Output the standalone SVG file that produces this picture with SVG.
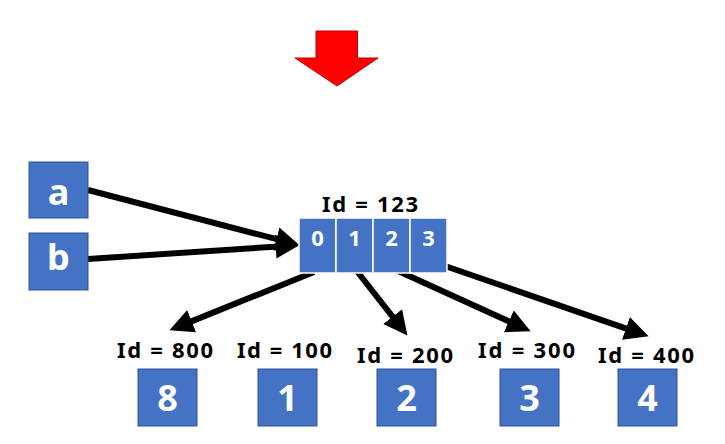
<svg xmlns="http://www.w3.org/2000/svg" width="725" height="444" viewBox="0 0 725 444">
<style>
.box{fill:#4472C4;stroke:#2F528F;stroke-width:1}
.cell{fill:#4472C4;stroke:#FFFFFF;stroke-width:1.5}
.big{font-family:"Noto Sans","Liberation Sans",sans-serif;font-weight:bold;font-size:36px;fill:#FFFFFF;text-anchor:middle}
.small{font-family:"Noto Sans","Liberation Sans",sans-serif;font-weight:bold;font-size:22px;fill:#FFFFFF;text-anchor:middle}
.lbl{font-family:"Noto Sans","Liberation Sans",sans-serif;font-weight:bold;font-size:22px;fill:#000000;text-anchor:middle}
.conn{stroke:#000000;stroke-width:6;fill:none;marker-end:url(#ah)}
</style>
<defs>
<marker id="ah" viewBox="0 0 10 10" refX="4.3" refY="5" markerWidth="4" markerHeight="4.2" orient="auto" markerUnits="strokeWidth">
<path d="M0,0 L10,5 L0,10 z" fill="#000000"/>
</marker>
</defs>
<rect width="725" height="444" fill="#FFFFFF"/>
<g id="red-arrow">
<polygon points="316,31 357.5,31 357.5,58 378,58 337,86 295,58 316,58" fill="#FF0000" stroke="#C00000" stroke-width="1"/>
</g>
<g id="connectors">
<line class="conn" x1="88" y1="190" x2="286.4" y2="241.7"/>
<line class="conn" x1="88" y1="259" x2="286" y2="245.9"/>
<line class="conn" x1="314" y1="272" x2="182.1" y2="325.1"/>
<line class="conn" x1="356" y1="270" x2="399" y2="324.8"/>
<line class="conn" x1="396" y1="270" x2="518.2" y2="325.6"/>
<line class="conn" x1="445" y1="266" x2="635.7" y2="331.8"/>
</g>
<g id="node-a">
<rect class="box" x="29" y="162" width="59" height="56"/>
<text class="big" x="58.5" y="205">a</text>
</g>
<g id="node-b">
<rect class="box" x="29" y="233" width="59" height="57"/>
<text class="big" x="58.5" y="270">b</text>
</g>
<g id="node-array">
<text class="lbl" x="370" y="212" textLength="96" lengthAdjust="spacing">Id = 123</text>
<rect class="cell" x="299" y="218" width="37" height="55"/>
<rect class="cell" x="336" y="218" width="37" height="55"/>
<rect class="cell" x="373" y="218" width="37" height="55"/>
<rect class="cell" x="410" y="218" width="37" height="55"/>
<text class="small" x="317.5" y="246">0</text>
<text class="small" x="354.5" y="246">1</text>
<text class="small" x="391.5" y="246">2</text>
<text class="small" x="428.5" y="246">3</text>
</g>
<g id="node-800">
<text class="lbl" x="165" y="358" textLength="96" lengthAdjust="spacing">Id = 800</text>
<rect class="box" x="138" y="369" width="59" height="57"/>
<text class="big" x="167.5" y="411">8</text>
</g>
<g id="node-100">
<text class="lbl" x="284.5" y="358" textLength="95" lengthAdjust="spacing">Id = 100</text>
<rect class="box" x="258" y="369" width="59" height="57"/>
<text class="big" x="287.5" y="411">1</text>
</g>
<g id="node-200">
<text class="lbl" x="405" y="363" textLength="96" lengthAdjust="spacing">Id = 200</text>
<rect class="box" x="377" y="369" width="59" height="57"/>
<text class="big" x="406.5" y="411">2</text>
</g>
<g id="node-300">
<text class="lbl" x="526.5" y="358" textLength="97" lengthAdjust="spacing">Id = 300</text>
<rect class="box" x="500" y="369" width="59" height="57"/>
<text class="big" x="529.5" y="411">3</text>
</g>
<g id="node-400">
<text class="lbl" x="646" y="363" textLength="96" lengthAdjust="spacing">Id = 400</text>
<rect class="box" x="618" y="369" width="59" height="57"/>
<text class="big" x="647.5" y="411">4</text>
</g>
</svg>
